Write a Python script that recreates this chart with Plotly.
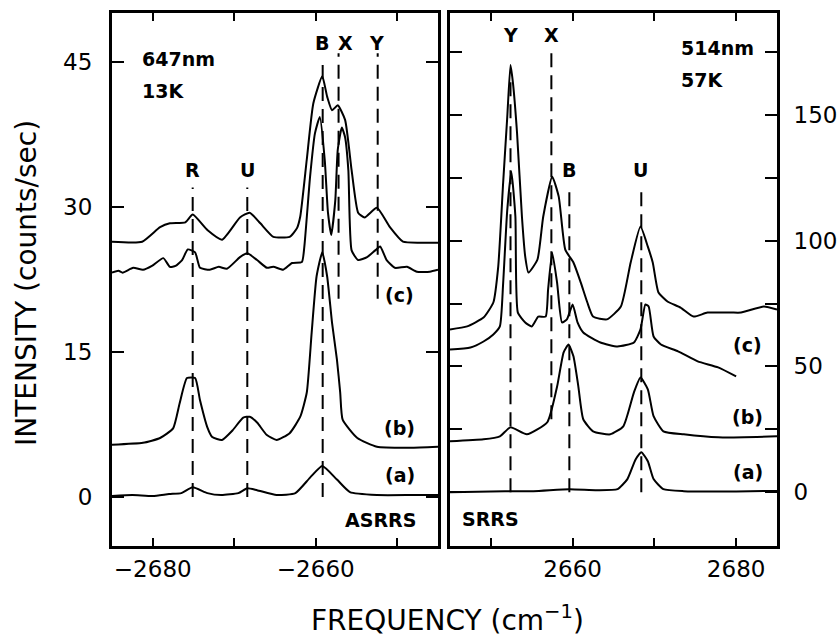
import plotly.graph_objects as go

# ---------------- data: left panel (ASRRS, 647nm, 13K) ----------------
lx_a = [-2685, -2682.5, -2680.0, -2678.0, -2676.5, -2675.1, -2673.3, -2671.6, -2669.5, -2668.4,
        -2667.2, -2664.8, -2662.5, -2660.7, -2659.2, -2657.4, -2655.8, -2652.5, -2648, -2645]
ly_a = [0.1, 0.2, 0.1, 0.3, 0.4, 1.0, 0.4, 0.2, 0.4, 0.9,
        0.7, 0.2, 0.4, 2.0, 3.2, 1.8, 0.5, 0.2, 0.2, 0.2]

lx_b = [-2685, -2681.2, -2679.1, -2677.5, -2676.7, -2675.8, -2674.8, -2674.2, -2673.3, -2672.7,
        -2671.5, -2670.2, -2668.9, -2668.1, -2667.2, -2666.0, -2664.8, -2663.2, -2661.9, -2661.1,
        -2660.5, -2659.9, -2659.2, -2658.6, -2658.0, -2657.4, -2657.0, -2656.7, -2654.9, -2652.5,
        -2648.4, -2645]
ly_b = [5.4, 5.6, 6.1, 7.1, 9.7, 12.3, 12.3, 10.0, 7.2, 6.2,
        5.9, 6.9, 8.2, 8.3, 7.7, 6.4, 5.9, 6.6, 8.3, 10.8,
        17.0, 22.8, 25.3, 22.8, 18.0, 14.2, 10.8, 8.0, 6.1, 5.2,
        5.1, 5.2]

lx_c1 = [-2685, -2681.3, -2679.1, -2677.9, -2676.0, -2675.1, -2673.3, -2671.5, -2669.3, -2668.1,
         -2666.8, -2665.2, -2663.2, -2662.3, -2661.9, -2661.1, -2660.3, -2659.2, -2658.6, -2658.0,
         -2657.3, -2656.4, -2655.6, -2654.8, -2654.0, -2652.5, -2650.9, -2649.3, -2647.2, -2645]
ly_c1 = [26.4, 26.4, 27.9, 28.3, 28.4, 29.2, 27.6, 26.6, 28.9, 29.4,
         28.3, 26.9, 26.9, 27.8, 29.0, 34.9, 40.7, 43.5, 41.4, 40.0,
         40.5, 39.0, 33.8, 29.4, 28.9, 29.9, 27.9, 26.4, 26.3, 26.3]

lx_c2 = [-2685, -2684.2, -2683.7, -2682.4, -2681.2, -2680.1, -2678.7, -2677.9, -2677.2, -2676.4,
         -2675.7, -2674.8, -2674.2, -2673.0, -2671.9, -2670.9, -2669.3, -2668.4, -2667.2, -2666.0,
         -2665.2, -2664.0, -2662.9, -2661.7, -2661.4, -2660.7, -2660.1, -2659.5, -2658.9, -2658.5,
         -2658.1, -2657.6, -2657.3, -2656.8, -2656.4, -2656.0, -2655.6, -2654.8, -2653.7, -2652.7,
         -2652.1, -2651.3, -2650.3, -2648.8, -2647.6, -2646.0, -2645]
ly_c2 = [23.2, 23.4, 23.2, 23.7, 23.5, 23.9, 24.7, 23.8, 23.9, 24.5,
         25.6, 25.3, 23.7, 23.5, 23.8, 23.6, 24.8, 25.2, 24.5, 23.7,
         23.8, 23.5, 24.2, 24.3, 25.9, 33.1, 37.6, 39.3, 34.9, 29.4,
         27.1, 30.7, 35.9, 38.2, 37.2, 33.8, 25.5, 24.5, 24.8, 25.5,
         25.9, 24.5, 23.7, 23.8, 23.3, 23.3, 23.5]

# marker lines (left): name, position, y-from, y-to
l_mark_names = ["R", "U", "B", "X", "Y"]
l_mark_pos = [-2675.1, -2668.4, -2659.15, -2657.2, -2652.4]
l_mark_lo = [0, 0, 0, 20.5, 20.5]
l_mark_hi = [32.0, 32.0, 44.7, 45.9, 45.9]

# ---------------- data: right panel (SRRS, 514nm, 57K) ----------------
rx_a = [2645, 2650, 2655.2, 2659.6, 2663, 2665.5, 2666.7, 2667.7, 2668.4, 2669.2,
        2669.9, 2671.1, 2673.6, 2680, 2685]
ry_a = [0, 0.3, 0.4, 1.2, 0.8, 1.2, 5.2, 13, 15.9, 12.3,
        5.2, 1.2, 0.4, 0.3, 0.5]

rx_b = [2645, 2649.1, 2651.1, 2652.4, 2654.4, 2656.9, 2658.1, 2658.9, 2659.5, 2660.1,
        2660.7, 2661.3, 2662.5, 2664.6, 2666.2, 2667.5, 2668.3, 2669.2, 2669.9, 2671.1,
        2673.6, 2677.8, 2685]
ry_b = [20.2, 21.0, 22.2, 25.8, 23.0, 27.8, 42.0, 55.6, 58.7, 54.0,
        42.0, 29.0, 24.2, 23.0, 26.2, 39.7, 45.6, 40.9, 30.2, 24.2,
        23.0, 21.8, 22.2]

rx_c1 = [2645, 2647.1, 2649.1, 2650.3, 2650.9, 2651.5, 2652.0, 2652.4, 2652.7, 2653.2,
         2653.8, 2654.2, 2654.6, 2655.7, 2656.4, 2657.5, 2658.3, 2659.1, 2660.1, 2661.0,
         2661.8, 2662.5, 2664.2, 2665.9, 2667.1, 2668.3, 2669.2, 2669.8, 2670.5, 2671.6,
         2673.2, 2674.8, 2676.5, 2679.4, 2680.6, 2683.4, 2685]
ry_c1 = [64.7, 65.9, 69.4, 75.4, 89.7, 123, 149, 169.8, 162.7, 142.9,
         109.5, 93.7, 87.3, 92.5, 109.5, 125.4, 117.5, 96.4, 91.3, 83.3,
         75.4, 69.8, 68.7, 73.8, 91.3, 105.6, 97.6, 91.3, 79.4, 75.8,
         73.4, 69.8, 71.4, 71.4, 71.4, 73.8, 72.6]

rx_c2 = [2645, 2647.5, 2649.1, 2650.3, 2651.1, 2651.5, 2652.0, 2652.5, 2653.0, 2653.3,
         2654.2, 2655.0, 2655.8, 2656.7, 2657.0, 2657.5, 2658.1, 2658.7, 2659.3, 2660.0,
         2660.6, 2661.3, 2663.4, 2665.5, 2667.5, 2668.3, 2668.9, 2669.3, 2669.9, 2670.8,
         2672.9, 2675.3, 2677.8, 2680.0]
ry_c2 = [56.7, 57.5, 59.9, 62.7, 65.9, 83, 112, 127.4, 109.5, 71.4,
         67.5, 65.9, 69.8, 69.8, 80.6, 95.2, 83.3, 67.5, 68.7, 74.6,
         67.5, 63.5, 59.5, 57.9, 59.5, 64.7, 74.6, 73.8, 61.9, 58.7,
         56.0, 52.0, 49.6, 46.0]

r_mark_names = ["Y", "X", "B", "U"]
r_mark_pos = [2652.4, 2657.4, 2659.6, 2668.4]
r_mark_lo = [0, 29, 0, 0]
r_mark_hi = [163, 175, 119.4, 119.4]

l_xticks = [-2680, -2670, -2660, -2650]
l_xticktext = ["\u22122680", "", "\u22122660", ""]
l_yticks = [0, 15, 30, 45]
r_xticks = [2650, 2660, 2670, 2680]
r_xticktext = ["", "2660", "", "2680"]
r_yticks = [0, 25, 50, 75, 100, 125, 150, 175]
r_yticktext = ["0", "", "50", "", "100", "", "150", ""]

FONT = "DejaVu Sans, sans-serif"
W, H = 838, 637

fig = go.Figure()

line_style = dict(color="black", width=2, shape="spline", smoothing=0.5)
dash_style = dict(color="black", width=2, dash="14px,8px")

for xs, ys in [(lx_a, ly_a), (lx_b, ly_b), (lx_c1, ly_c1), (lx_c2, ly_c2)]:
    fig.add_trace(go.Scatter(x=xs, y=ys, mode="lines", line=line_style,
                             xaxis="x", yaxis="y", showlegend=False))
for xs, ys in [(rx_a, ry_a), (rx_b, ry_b), (rx_c1, ry_c1), (rx_c2, ry_c2)]:
    fig.add_trace(go.Scatter(x=xs, y=ys, mode="lines", line=line_style,
                             xaxis="x2", yaxis="y2", showlegend=False))

for p, lo, hi in zip(l_mark_pos, l_mark_lo, l_mark_hi):
    fig.add_trace(go.Scatter(x=[p, p], y=[lo, hi], mode="lines", line=dash_style,
                             xaxis="x", yaxis="y", showlegend=False))
for p, lo, hi in zip(r_mark_pos, r_mark_lo, r_mark_hi):
    fig.add_trace(go.Scatter(x=[p, p], y=[lo, hi], mode="lines", line=dash_style,
                             xaxis="x2", yaxis="y2", showlegend=False))

ydom = [(H - 546) / H, (H - 13) / H]
common = dict(showgrid=False, zeroline=False, showline=True, linecolor="black",
              linewidth=3, ticks="inside", mirror="ticks", tickcolor="black",
              tickwidth=2, tickfont=dict(family=FONT, size=23, color="black"))

fig.update_layout(
    width=W, height=H, margin=dict(l=0, r=0, t=0, b=0),
    paper_bgcolor="white", plot_bgcolor="white",
    xaxis=dict(domain=[112 / W, 438 / W], range=[-2685, -2645], anchor="y",
               tickvals=l_xticks, ticktext=l_xticktext, ticklen=8,
               ticklabelstandoff=0, **common),
    yaxis=dict(domain=ydom, range=[-5.07, 50.05], anchor="x",
               tickvals=l_yticks, ticklen=12, ticklabelstandoff=12, **common),
    xaxis2=dict(domain=[450 / W, 777 / W], range=[2645, 2685], anchor="y2",
                tickvals=r_xticks, ticktext=r_xticktext, ticklen=8,
                ticklabelstandoff=0, **common),
    yaxis2=dict(domain=ydom, range=[-21.4, 190.5], anchor="x2", side="right",
                tickvals=r_yticks, ticktext=r_yticktext, ticklen=12,
                ticklabelstandoff=9, **common),
)

ann = []
lab_font = dict(family=FONT, size=19, color="black", weight="bold")
# peak labels
l_lab_y = {"R": 33.8, "U": 33.8, "B": 46.9, "X": 46.9, "Y": 46.9}
l_lab_x = {"R": -2675.1, "U": -2668.4, "B": -2659.2, "X": -2656.4, "Y": -2652.5}
for n in l_mark_names:
    ann.append(dict(x=l_lab_x[n], y=l_lab_y[n], xref="x", yref="y", text=n,
                    showarrow=False, font=lab_font))
r_lab_y = {"Y": 181.7, "X": 181.7, "B": 128.2, "U": 128.2}
r_lab_x = {"Y": 2652.4, "X": 2657.4, "B": 2659.5, "U": 2668.3}
for n in r_mark_names:
    ann.append(dict(x=r_lab_x[n], y=r_lab_y[n], xref="x2", yref="y2", text=n,
                    showarrow=False, font=lab_font))

# condition text
ann += [
    dict(x=-2681.6, y=45.3, xref="x", yref="y", text="647nm", xanchor="left",
         showarrow=False, font=lab_font),
    dict(x=-2681.6, y=42.0, xref="x", yref="y", text="13K", xanchor="left",
         showarrow=False, font=lab_font),
    dict(x=2673.0, y=176.5, xref="x2", yref="y2", text="514nm", xanchor="left",
         showarrow=False, font=lab_font),
    dict(x=2673.0, y=163.8, xref="x2", yref="y2", text="57K", xanchor="left",
         showarrow=False, font=lab_font),
    dict(x=-2649.7, y=20.9, xref="x", yref="y", text="(c)", showarrow=False, font=lab_font),
    dict(x=-2649.7, y=7.1, xref="x", yref="y", text="(b)", showarrow=False, font=lab_font),
    dict(x=-2649.7, y=2.3, xref="x", yref="y", text="(a)", showarrow=False, font=lab_font),
    dict(x=2681.4, y=58.7, xref="x2", yref="y2", text="(c)", showarrow=False, font=lab_font),
    dict(x=2681.4, y=29.8, xref="x2", yref="y2", text="(b)", showarrow=False, font=lab_font),
    dict(x=2681.4, y=7.9, xref="x2", yref="y2", text="(a)", showarrow=False, font=lab_font),
    dict(x=-2652.0, y=-2.4, xref="x", yref="y", text="ASRRS", showarrow=False, font=lab_font),
    dict(x=2649.9, y=-10.7, xref="x2", yref="y2", text="SRRS", showarrow=False, font=lab_font),
    # axis titles
    dict(x=447 / W, y=1 - 618 / H, xref="paper", yref="paper", xanchor="center",
         yanchor="middle", text="FREQUENCY (cm<sup>\u22121</sup>)", showarrow=False,
         font=dict(family=FONT, size=28, color="black")),
    dict(x=26 / W, y=1 - 283 / H, xref="paper", yref="paper", xanchor="center",
         yanchor="middle", text="INTENSITY (counts/sec)", textangle=-90, showarrow=False,
         font=dict(family=FONT, size=28, color="black")),
]
fig.update_layout(annotations=ann)

fig.write_html("out.html")
